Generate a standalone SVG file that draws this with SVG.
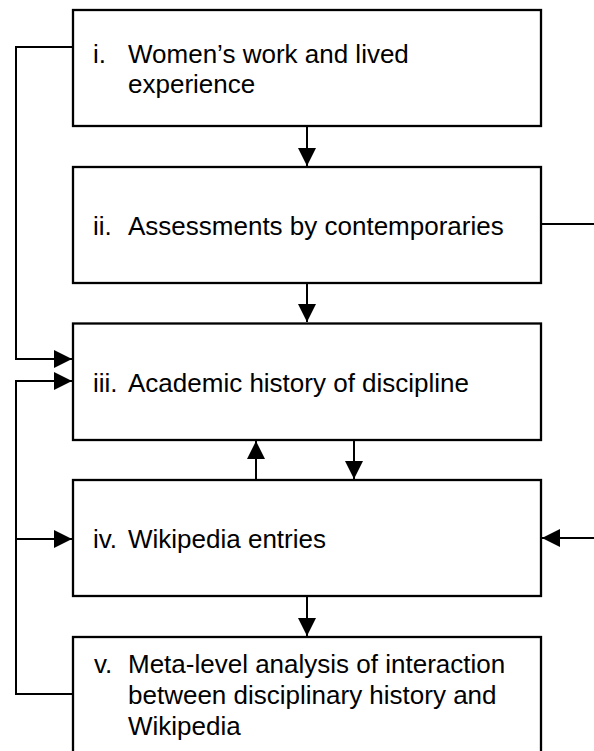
<svg xmlns="http://www.w3.org/2000/svg" width="594" height="751" viewBox="0 0 594 751">
<style>
.box{fill:#fff;stroke:#000;stroke-width:2.3}
.t{font-family:"Liberation Sans",Arial,sans-serif;font-size:26px;fill:#000}
.c{fill:none;stroke:#000;stroke-width:2}
</style>
<defs>
<marker id="ah" markerUnits="userSpaceOnUse" markerWidth="18" markerHeight="18" viewBox="0 0 18 18" refX="18" refY="9" orient="auto">
<path d="M0,0 L18,9 L0,18 z" fill="#000"/>
</marker>
</defs>
<rect width="594" height="751" fill="#fff"/>
<g id="connectors">
<path class="c" d="M73,47 H16 V359 H72" marker-end="url(#ah)"/>
<path class="c" d="M73,694 H16 V381 H72" marker-end="url(#ah)"/>
<path class="c" d="M16,539 H72" marker-end="url(#ah)"/>
<path class="c" d="M541,224 H600"/>
<path class="c" d="M600,538 H542" marker-end="url(#ah)"/>
<path class="c" d="M307,126 V166" marker-end="url(#ah)"/>
<path class="c" d="M307,283 V322" marker-end="url(#ah)"/>
<path class="c" d="M354,440 V479" marker-end="url(#ah)"/>
<path class="c" d="M256,480 V441" marker-end="url(#ah)"/>
<path class="c" d="M307,596 V636" marker-end="url(#ah)"/>
</g>
<g id="node-i">
<rect class="box" x="73" y="10" width="468" height="116"/>
<text class="t" x="93" y="63">i.</text>
<text class="t" x="128" y="63">Women’s work and lived</text>
<text class="t" x="128" y="93">experience</text>
</g>
<g id="node-ii">
<rect class="box" x="73" y="167" width="468" height="116"/>
<text class="t" x="93" y="235">ii.</text>
<text class="t" x="128" y="235">Assessments by contemporaries</text>
</g>
<g id="node-iii">
<rect class="box" x="73" y="323.5" width="468" height="116.5"/>
<text class="t" x="93" y="392">iii.</text>
<text class="t" x="128" y="392">Academic history of discipline</text>
</g>
<g id="node-iv">
<rect class="box" x="73" y="480" width="468" height="116"/>
<text class="t" x="93" y="548">iv.</text>
<text class="t" x="128" y="548">Wikipedia entries</text>
</g>
<g id="node-v">
<rect class="box" x="73" y="637" width="468" height="125"/>
<text class="t" x="94" y="673">v.</text>
<text class="t" x="128" y="673">Meta-level analysis of interaction</text>
<text class="t" x="128" y="704">between disciplinary history and</text>
<text class="t" x="128" y="735">Wikipedia</text>
</g>
</svg>
